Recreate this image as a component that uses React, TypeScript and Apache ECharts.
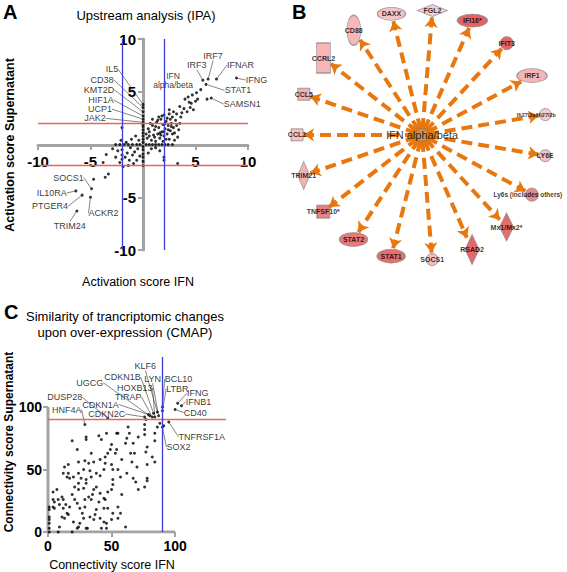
import React, { useEffect, useRef } from 'react';
import * as echarts from 'echarts';

const FONT = '"Liberation Sans", Arial, Helvetica, sans-serif';

// ---------- Panel A: Upstream analysis (IPA) ----------
const ipaPoints: [number, number][] = [
  [0, -2.0], [0, -1.6], [0, -1.2], [0, -0.9], [0, -0.5], [0, -0.2], [0, 0.2], [0, 0.5], [0, 0.8], [0, 1.1], [0, 1.4], [0, 1.7], [0, 1.9],
  [-2.6, 0], [-2.2, 0], [-1.8, 0], [-1.4, 0], [-1.0, 0], [-0.6, 0], [-0.3, 0], [0.3, 0], [0.6, 0], [0.9, 0], [1.2, 0], [1.5, 0], [1.8, 0], [2.1, 0], [2.4, 0], [2.8, 0],
  [0.4, 0.6], [0.6, 1.2], [0.8, 0.4], [0.9, 1.8], [1.0, 0.9], [1.1, 1.4], [1.2, 0.3], [1.3, 2.1], [1.4, 1.0], [1.5, 1.6], [1.6, 0.6], [1.7, 2.4], [1.8, 1.2], [1.9, 1.9], [2.0, 0.8], [2.1, 1.5], [2.2, 2.2], [2.3, 1.0], [2.4, 1.8], [2.5, 0.5], [2.6, 1.3], [2.7, 2.0], [2.8, 2.6], [2.9, 1.6], [3.0, 1.1], [3.1, 2.3], [3.2, 1.8], [3.4, 1.4], [3.5, 2.0], [3.3, 0.7], [1.5, 2.6], [2.0, 2.8], [2.5, 2.9], [1.2, 1.7], [0.7, 2.0], [0.5, 1.5], [1.9, 0.3], [2.2, 0.5], [2.8, 1.0], [3.0, 0.4], [1.6, 1.1], [2.4, 1.4], [2.1, 2.0], [1.8, 2.7], [2.6, 2.4], [0.3, 1.0], [0.9, 2.4], [1.1, 0.7], [2.0, 1.2], [2.3, 2.5], [3.6, 2.6], [2.7, 1.7], [1.4, 2.3], [0.6, 0.8], [1.7, 0.9], [3.2, 2.9], [2.9, 3.1], [2.5, 3.3],
  [3.7, 3.0], [4.2, 3.1], [4.5, 3.5], [4.8, 3.3], [3.9, 3.4], [3.5, 3.6], [4.6, 3.9], [4.3, 4.5], [4.7, 4.7], [5.1, 4.9], [5.0, 4.1], [5.2, 4.3], [6.1, 4.3], [4.4, 4.0], [5.5, 5.2],
  [-0.4, 0.4], [-0.7, 0.8], [-1.1, 0.5], [-0.5, -0.4], [-0.8, -0.7], [-1.2, -0.3], [-1.5, -0.8], [-1.0, -1.0], [-1.7, -1.2], [-1.3, -1.5], [-2.0, -0.5], [-2.0, -1.0], [-2.0, -1.4], [-2.1, 0.4], [-2.4, -0.6], [-2.6, -1.2], [-2.2, -1.7], [-1.6, 0.2], [-0.9, -1.8], [-1.4, -2.0], [-2.9, -0.4], [-0.3, -1.1], [-0.6, -1.5], [-1.9, -2.1], [-2.0, 1.6],
  [2.0, -1.2], [2.0, -1.5], [1.6, -0.6], [0.8, -0.4], [0.5, -0.8], [1.2, -0.3],
  [-4.7, -3.3], [-3.6, -3.1], [-3.3, -2.8], [-3.5, -0.95], [-3.8, -1.7], [3.3, -1.8],
];
const ipaLabels = ['IL5', 'CD38', 'KMT2D', 'HIF1A', 'UCP1', 'JAK2', 'IRF3', 'IRF7', 'IFNAR', 'IFNG', 'STAT1', 'SAMSN1', 'SOCS1', 'IL10RA', 'PTGER4', 'ACKR2', 'TRIM24', 'IFN\nalpha/beta'];
const ipaLabelX = [0, 0, 0, 0, 0, 0, 5.7, 6.2, 7.0, 8.9, 6.0, 6.5, -4.9, -6.4, -5.8, -5.0, -6.3, 4.0];
const ipaLabelY = [3.8, 3.5, 3.1, 2.7, 2.4, 2.1, 6.1, 6.2, 6.2, 6.3, 5.7, 4.4, -4.2, -4.4, -4.8, -5.0, -6.3, 4.3];
const ipaThresholds = [-2, 2];

// ---------- Panel C: CMAP ----------
const cmapPoints: [number, number][] = [
  [30, 74], [19, 73], [40, 77], [46, 79], [55, 79], [63, 84], [71, 76], [76, 78], [86, 84], [84, 73], [78, 68], [77, 64], [82, 60], [84, 56], [67, 71], [61, 71], [62, 75], [50, 70], [49, 66], [54, 66], [53, 63], [47, 63], [45, 60], [41, 58], [34, 63], [36, 56], [32, 55], [29, 57], [28, 50], [24, 56], [23, 66], [16, 54], [13, 52], [12, 47], [16, 47], [15, 44], [17, 43], [20, 44], [24, 47], [26, 43], [30, 42], [24, 39], [21, 36], [24, 34], [28, 35], [30, 39], [34, 44], [38, 47], [41, 45], [44, 50], [45, 55], [50, 54], [51, 50], [55, 50], [51, 42], [57, 44], [62, 47], [66, 56], [65, 63], [68, 63], [78, 54], [67, 43], [69, 40], [78, 43], [78, 41], [76, 36], [71, 34],
  [11, 28], [8, 26], [5, 24], [4, 20], [9, 22], [12, 26], [14, 22], [12, 19], [15, 15], [13, 11], [16, 14], [11, 12], [9, 4], [17, 20], [21, 26], [23, 23], [25, 19], [29, 20], [29, 26], [32, 28], [34, 26], [36, 34], [38, 36], [41, 31], [44, 27], [47, 32], [50, 34], [51, 38], [40, 24], [38, 18], [37, 14], [33, 12], [28, 11], [25, 7], [24, 4], [30, 3], [36, 10], [41, 11], [44, 8], [46, 7], [50, 10], [55, 11], [57, 15], [51, 15], [47, 19], [44, 19], [45, 26], [55, 20], [58, 30], [7, 34], [4, 26], [1, 20], [1, 18], [1, 12], [1, 10], [1, 7], [1, 3], [1, 0], [4, 32], [5, 19], [20, 8], [23, 3], [31, 3], [42, 3], [46, 3], [61, 4], [8, 0], [19, 0],
  [76, 86], [77, 90], [76, 82], [84, 79], [64, 79], [54, 79], [30, 76], [42, 74], [91, 85], [88, 87], [35, 30], [27, 15], [19, 30], [33, 49], [58, 58], [70, 52],
];
const cmapLabels = ['KLF6', 'CDKN1B', 'LYN', 'UGCG', 'HOXB13', 'TIRAP', 'CDKN1A', 'CDKN2C', 'DUSP28', 'HNF4A', 'BCL10', 'LTBR', 'IFNG', 'IFNB1', 'CD40', 'TNFRSF1A', 'SOX2'];
const cmapLabelX = [86, 83, 87, 80, 84, 82, 79, 76, 47, 29, 90, 90, 102, 105, 100, 95, 90];
const cmapLabelY = [96, 95, 93, 93, 92, 92, 94, 92, 91, 86, 100, 97, 103, 101, 98, 88, 84];
const cmapThreshold = 90;
const cmapTicks = [0, 50, 100];

// ---------- Panel B: network ----------
const hubName = 'IFN alpha/beta';
const targetNames = ['Ifi27l2a/Ifi27l2b', 'IRF1', 'IFIT3', 'IFI16*', 'FGL2', 'DAXX', 'CD88', 'CCRL2', 'CCL5', 'CCL2', 'TRIM21', 'TNFSF10*', 'STAT2', 'STAT1', 'SOCS1', 'RSAD2', 'Mx1/Mx2*', 'Ly6s (includes others)', 'LY6E'];
const targetShapes = ['circle', 'ellipse', 'circle', 'ellipse', 'diamond', 'ellipse', 'ellipse', 'rect', 'rect', 'rect', 'diamond', 'rect', 'ellipse', 'ellipse', 'circle', 'diamond', 'diamond', 'circle', 'circle'];
const targetColors = ['#f4c0c0', '#f3a2a4', '#e23c3c', '#e0393a', '#efc4c4', '#f3b5b8', '#f2a7a9', '#f5a3a3', '#f09a9a', '#f4b4b4', '#f1a0a0', '#e06262', '#e25858', '#e04a4a', '#f2aaaa', '#e04444', '#e04848', '#e86a6a', '#f4b0b0'];

// layout / style (not data)
const nodeSizes: [number, number][] = [[12, 12], [30, 14], [13, 13], [30, 13], [30, 12], [28, 13], [14, 30], [14, 30], [12, 12], [12, 12], [12, 28], [13, 13], [28, 14], [28, 14], [12, 12], [14, 30], [14, 28], [13, 13], [12, 12]];
const nodeLabelOffsets = [[-9, 0], [0, 0], [0, 0], [0, 0], [0, 0], [0, 0], [0, 0], [0, 0], [0, 0], [0, 0], [0, 0], [0, 0], [0, 0], [0, 0], [0, 0], [0, 0], [0, 0], [-4, 0], [0, 0]];
const ipaLabelOffsets = [[-31, -35], [-41, -28], [-44, -22], [-42, -16], [-43, -10], [-48, -4], [-6, -15], [5, -23], [24, -14], [20, 2], [32, 6], [31, 6], [-23, -11], [-24, 2], [-32, 11], [13, 16], [-7, 15], [-12, -19]];
const cmapLabelOffsets = [[-12, -46], [-31, -36], [-6, -37], [-60, -33], [-20, -29], [-24, -20], [-48, -10], [-38, -3], [-43, -21], [-18, -15], [16, -28], [15, -22], [20, -10], [17, -4], [20, 3], [33, 15], [16, 20]];

const GRAY = '#a3a3a3';
const RED = '#ee5f66';
const BLUE = '#3c3cd2';
const ORANGE = '#e8770e';
const ELLIPSE = 'path://M0,10A10,10,0,1,1,20,10A10,10,0,1,1,0,10Z';

function App() {
  const ref = useRef<HTMLDivElement>(null);
  useEffect(() => {
    if (!ref.current) return;
    const chart = echarts.init(ref.current, null, { renderer: 'svg' });

    const R = 125;
    const START = 9.4;
    const STEP = 360 / targetNames.length;
    const ang = (i: number) => ((START + i * STEP) * Math.PI) / 180;

    const nodes = targetNames.map((name, i) => {
      const a = ang(i);
      const shape = targetShapes[i];
      const long = name.length > 12;
      return {
        name,
        value: [R * Math.cos(a), R * Math.sin(a)],
        symbol: shape === 'ellipse' ? ELLIPSE : shape,
        symbolSize: nodeSizes[i],
        itemStyle: { color: targetColors[i], borderColor: '#8a8a8a', borderWidth: 1 },
        label: {
          show: true,
          position: 'inside',
          formatter: '{b}',
          fontSize: i === 0 ? 5.5 : long ? 6.5 : 7,
          fontWeight: 'bold',
          color: '#000',
          fontFamily: FONT,
          offset: nodeLabelOffsets[i],
        },
      };
    });
    const edges = targetNames.map((_, i) => {
      const a = ang(i);
      const c = Math.cos(a);
      const s = Math.sin(a);
      const [w, h] = nodeSizes[i];
      const ext = 1 / Math.sqrt((c / (w / 2)) ** 2 + (s / (h / 2)) ** 2);
      const rEnd = R - ext - 1;
      return { coords: [[6 * c, 6 * s], [rEnd * c, rEnd * s]] };
    });

    const txt = (text: string, x: number, y: number, font: string, rot = 0, align = 'center') => ({
      type: 'text',
      x,
      y,
      rotation: rot,
      style: { text, font, fill: '#000', align, verticalAlign: 'middle', textAlign: align, textVerticalAlign: 'middle' },
    });

    const tickLabel = (v: number) => (v === 0 ? '' : String(v));
    const refLines = (axis: 'xAxis' | 'yAxis', values: number[], color: string, width: number) => ({
      silent: true,
      symbol: ['none', 'none'],
      label: { show: false },
      lineStyle: { color, width, type: 'solid', opacity: 1 },
      emphasis: { disabled: true },
      data: values.map((v) => ({ [axis]: v })),
    });

    const option: any = {
      animation: false,
      textStyle: { fontFamily: FONT },
      grid: [
        { left: 38, top: 39, width: 210, height: 211 },
        { left: 48, top: 357, width: 178, height: 175 },
        { left: 290, top: 0, width: 277, height: 290 },
        { left: 38, top: 39, width: 210, height: 106 },
        { left: 143, top: 39, width: 105, height: 211 },
      ],
      xAxis: [
        { gridIndex: 0, type: 'value', min: -10, max: 10, show: false, splitLine: { show: false } },
        {
          gridIndex: 1, type: 'value', min: 0, max: 140, interval: 50,
          axisLine: { show: false },
          axisTick: { customValues: cmapTicks, length: 5, lineStyle: { color: GRAY, width: 2 } },
          axisLabel: { customValues: cmapTicks, fontSize: 14, fontWeight: 'bold', color: '#000', margin: 7 },
          splitLine: { show: false },
        },
        { gridIndex: 2, type: 'value', min: -132, max: 145, show: false, splitLine: { show: false } },
        {
          gridIndex: 3, type: 'value', min: -10, max: 10, interval: 5, position: 'bottom',
          axisLine: { onZero: false, lineStyle: { color: GRAY, width: 3 } },
          axisTick: { length: 5, lineStyle: { color: GRAY, width: 2 } },
          axisLabel: { formatter: tickLabel, fontSize: 15, fontWeight: 'bold', color: '#000', margin: 9 },
          splitLine: { show: false },
        },
        { gridIndex: 4, type: 'value', min: 0, max: 10, show: false, splitLine: { show: false } },
      ],
      yAxis: [
        { gridIndex: 0, type: 'value', min: -10, max: 10, show: false, splitLine: { show: false } },
        {
          gridIndex: 1, type: 'value', min: 0, max: 140, interval: 50,
          axisLine: { show: false },
          axisTick: { customValues: cmapTicks, length: 5, lineStyle: { color: GRAY, width: 2 } },
          axisLabel: { customValues: cmapTicks, fontSize: 14, fontWeight: 'bold', color: '#000', margin: 6 },
          splitLine: { show: false },
        },
        { gridIndex: 2, type: 'value', min: -155, max: 135, show: false, splitLine: { show: false } },
        { gridIndex: 3, type: 'value', min: 0, max: 10, show: false, splitLine: { show: false } },
        {
          gridIndex: 4, type: 'value', min: -10, max: 10, interval: 5, position: 'left',
          axisLine: { onZero: false, lineStyle: { color: GRAY, width: 3 } },
          axisTick: { length: 5, lineStyle: { color: GRAY, width: 2 } },
          axisLabel: { formatter: tickLabel, fontSize: 15, fontWeight: 'bold', color: '#000', margin: 7 },
          splitLine: { show: false },
        },
      ],
      graphic: [
        txt('A', 3, 12, `bold 20px ${FONT}`, 0, 'left'),
        txt('B', 292, 12, `bold 20px ${FONT}`, 0, 'left'),
        txt('C', 4, 312, `bold 20px ${FONT}`, 0, 'left'),
        txt('Upstream analysis (IPA)', 146, 15, `13px ${FONT}`),
        txt('Activation score IFN', 138, 282, `12.5px ${FONT}`),
        txt('Activation score Supernatant', 10, 145, `bold 12.5px ${FONT}`, Math.PI / 2),
        txt('Similarity of trancriptomic changes', 125, 316, `13px ${FONT}`),
        txt('upon over-expression (CMAP)', 125, 332, `13px ${FONT}`),
        txt('Connectivity score IFN', 112, 565, `12.5px ${FONT}`),
        txt('Connectivity score Supernatant', 9, 442, `bold 12px ${FONT}`, Math.PI / 2),
      ],
      series: [
        {
          type: 'scatter', xAxisIndex: 0, yAxisIndex: 0, symbolSize: 3, itemStyle: { color: '#000' },
          data: ipaPoints, silent: true, z: 3,
          markLine: refLines('yAxis', ipaThresholds, RED, 1.3),
        },
        {
          type: 'scatter', xAxisIndex: 0, yAxisIndex: 0, symbolSize: 3, itemStyle: { color: '#000' }, z: 4,
          data: ipaLabels.map((name, i) => ({
            name, value: [ipaLabelX[i], ipaLabelY[i]],
            ...(i === ipaLabels.length - 1 ? { labelLine: { show: false }, label: { fontSize: 8.5, lineHeight: 9 } } : {}),
          })),
          label: { show: true, position: 'inside', formatter: '{b}', fontSize: 9, color: '#000', fontFamily: FONT, lineHeight: 9 },
          labelLine: { show: true, lineStyle: { color: '#333', width: 0.6 } },
          labelLayout: (p: any) => ({ dx: ipaLabelOffsets[p.dataIndex][0], dy: ipaLabelOffsets[p.dataIndex][1] }),
          markLine: refLines('xAxis', ipaThresholds, BLUE, 1.3),
        },
        {
          type: 'line', xAxisIndex: 1, yAxisIndex: 1, symbol: 'none', silent: true, z: 1,
          data: [[100, 0], [0, 0], [0, 100]], lineStyle: { color: GRAY, width: 3 },
        },
        {
          type: 'scatter', xAxisIndex: 1, yAxisIndex: 1, symbolSize: 3, itemStyle: { color: '#000' },
          data: cmapPoints, silent: true, z: 3,
          markLine: refLines('yAxis', [cmapThreshold], RED, 1.3),
        },
        {
          type: 'scatter', xAxisIndex: 1, yAxisIndex: 1, symbolSize: 3, itemStyle: { color: '#000' }, z: 4,
          data: cmapLabels.map((name, i) => ({ name, value: [cmapLabelX[i], cmapLabelY[i]] })),
          label: { show: true, position: 'inside', formatter: '{b}', fontSize: 9, color: '#000', fontFamily: FONT, lineHeight: 9 },
          labelLine: { show: true, lineStyle: { color: '#333', width: 0.6 } },
          labelLayout: (p: any) => ({ dx: cmapLabelOffsets[p.dataIndex][0], dy: cmapLabelOffsets[p.dataIndex][1] }),
          markLine: refLines('xAxis', [cmapThreshold], BLUE, 1.3),
        },
        {
          type: 'lines', coordinateSystem: 'cartesian2d', xAxisIndex: 2, yAxisIndex: 2, silent: true, z: 2,
          symbol: ['none', 'arrow'], symbolSize: 10,
          lineStyle: { color: ORANGE, width: 4, type: [11, 6], opacity: 1 },
          data: edges,
        },
        {
          type: 'scatter', xAxisIndex: 2, yAxisIndex: 2, silent: true, z: 3,
          data: nodes,
        },
        {
          type: 'scatter', xAxisIndex: 2, yAxisIndex: 2, silent: true, z: 4,
          data: [{ name: hubName, value: [0, 0] }],
          symbol: 'circle', symbolSize: 15, itemStyle: { color: '#b8772f' },
          label: { show: true, position: 'inside', formatter: '{b}', fontSize: 11, color: '#000', fontFamily: FONT },
        },
      ],
    };
    chart.setOption(option);
    return () => chart.dispose();
  }, []);
  return <div ref={ref} style={{ position: 'fixed', left: 0, top: 0, width: 567, height: 572, background: '#fff' }} />;
}

export default App;
